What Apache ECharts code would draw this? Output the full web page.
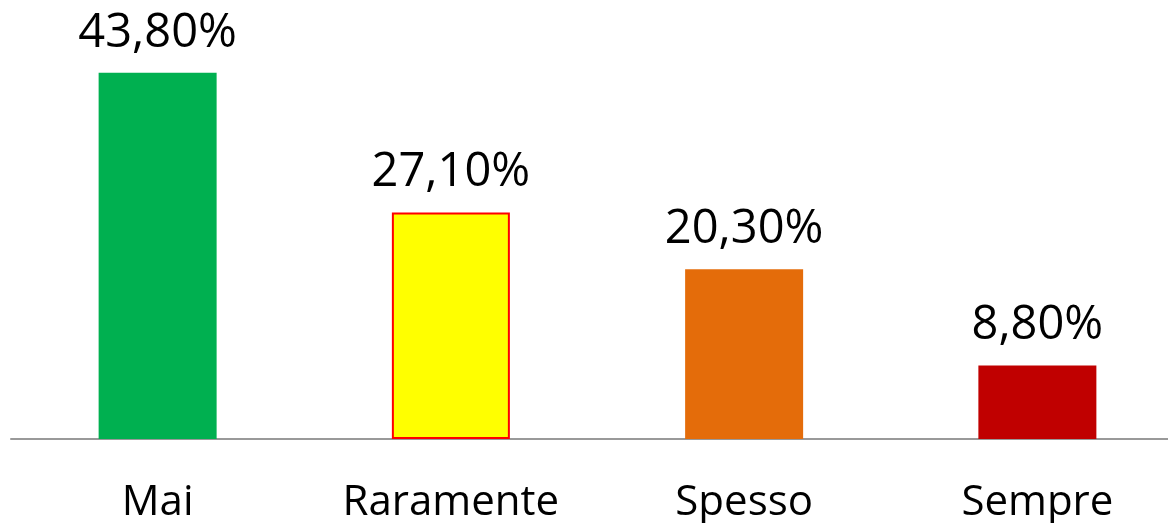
<!DOCTYPE html>
<html>
<head>
<meta charset="utf-8">
<script src="https://cdn.jsdelivr.net/npm/echarts@6/dist/echarts.min.js"></script>
<style>
  html, body { margin: 0; padding: 0; background: #fff; }
  #chart { width: 1168px; height: 523px; }
</style>
</head>
<body>
<div id="chart"></div>
<script>
// dati
const categories = ['Mai', 'Raramente', 'Spesso', 'Sempre']
const values = [43.8, 27.1, 20.3, 8.8]
const colors = ['#00B050', '#FFFF00', '#E46C0A', '#C00000']
const borders = ['#00B050', '#FF0000', '#E46C0A', '#C00000']

const chart = echarts.init(document.getElementById('chart'))

const option = {
  animation: false,
  grid: {
    left: 11,
    width: 1173,
    top: 21,
    bottom: 84,
    outerBoundsMode: 'none',
    containLabel: false
  },
  xAxis: {
    type: 'category',
    data: categories,
    axisLine: {
      lineStyle: { color: '#999999', width: 2 }
    },
    axisTick: { show: false },
    axisLabel: {
      color: '#000000',
      fontFamily: 'Open Sans',
      fontSize: 42,
      margin: 43
    }
  },
  yAxis: {
    type: 'value',
    min: 0,
    max: 50,
    show: false
  },
  series: [
    {
      type: 'bar',
      barWidth: 118,
      data: values.map((v, i) => ({
        value: v,
        itemStyle: {
          color: colors[i],
          borderColor: borders[i],
          borderWidth: i === 1 ? 2 : 0
        }
      })),
      label: {
        show: true,
        position: 'top',
        distance: 16,
        color: '#000000',
        fontFamily: 'Open Sans',
        fontSize: 47,
        formatter: p => p.value.toFixed(2).replace('.', ',') + '%'
      }
    }
  ]
}
chart.setOption(option)
</script>
</body>
</html>
